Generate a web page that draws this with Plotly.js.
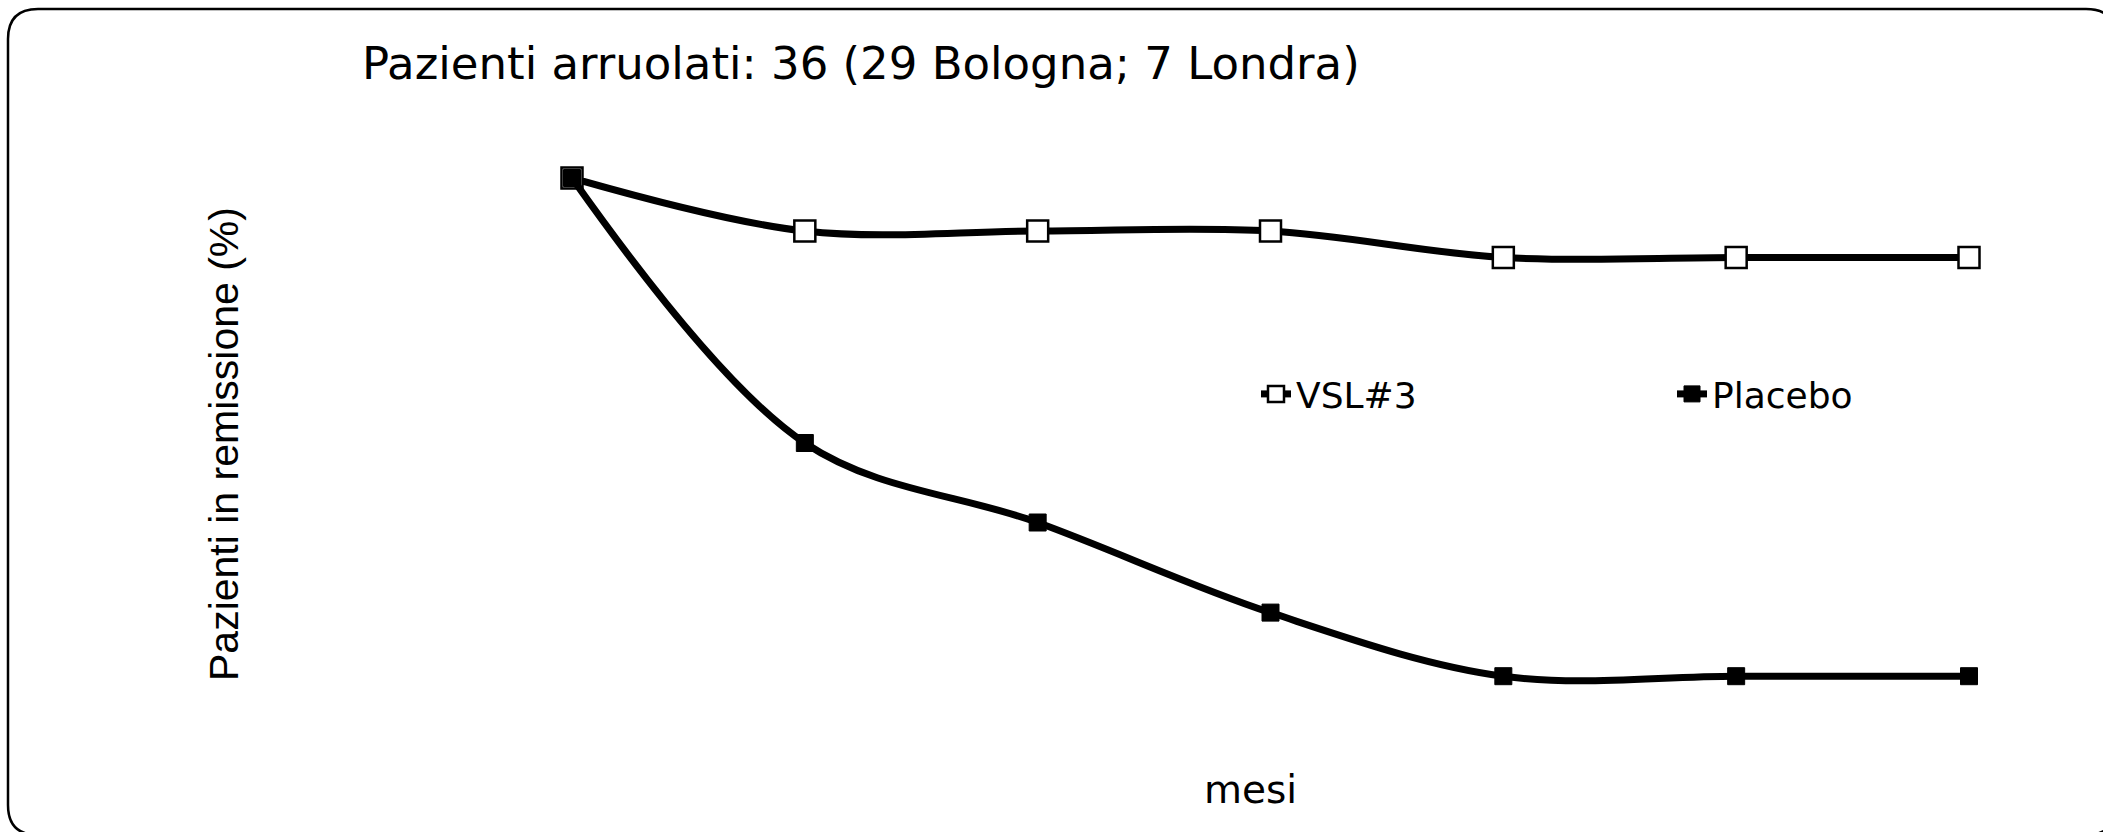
<!DOCTYPE html>
<html>
<head>
<meta charset="utf-8">
<script src="https://cdn.plot.ly/plotly-3.0.1.min.js"></script>
<style>
  html, body { margin: 0; padding: 0; background: #ffffff; }
  #chart { width: 2103px; height: 832px; }
</style>
</head>
<body>
<div id="chart"></div>
<script>
// Months of follow-up
const months = [0, 2, 4, 6, 8, 10, 12];
// Patients in remission (%)
const vsl3 = [100, 90, 90, 90, 85, 85, 85];
const placebo = [100, 50, 35, 18, 6, 6, 6];

const seriesNames = ['VSL#3', 'Placebo'];
const titleText = 'Pazienti arruolati: 36 (29 Bologna; 7 Londra)';
const xTitle = 'mesi';
const yTitle = 'Pazienti in remissione (%)';

// Figure geometry (pixels)
const W = 2103, H = 832;
const M = { l: 572, r: 134, t: 178, b: 124 };
const plotW = W - M.l - M.r;
const plotH = H - M.t - M.b;
const px = x => (x - M.l) / plotW;
const py = y => (H - M.b - y) / plotH;

// Rounded frame around the whole figure
function roundedFrame(x0, y0, x1, y1, r) {
  const p = (x, y) => px(x) + ',' + py(y);
  return 'M' + p(x0 + r, y0) +
    ' L' + p(x1 - r, y0) +
    ' Q' + p(x1, y0) + ' ' + p(x1, y0 + r) +
    ' L' + p(x1, y1 - r) +
    ' Q' + p(x1, y1) + ' ' + p(x1 - r, y1) +
    ' L' + p(x0 + r, y1) +
    ' Q' + p(x0, y1) + ' ' + p(x0, y1 - r) +
    ' L' + p(x0, y0 + r) +
    ' Q' + p(x0, y0) + ' ' + p(x0 + r, y0) + ' Z';
}

const labelFont = { family: 'DejaVu Sans, Verdana, sans-serif', color: '#000000' };

const traces = [
  {
    x: months, y: vsl3, name: seriesNames[0],
    type: 'scatter', mode: 'lines+markers', cliponaxis: false,
    line: { color: '#000000', width: 7, shape: 'spline', smoothing: 1 },
    marker: { symbol: 'square', size: 21, color: '#ffffff', line: { color: '#000000', width: 2.5 } }
  },
  {
    x: months, y: placebo, name: seriesNames[1],
    type: 'scatter', mode: 'lines+markers', cliponaxis: false,
    line: { color: '#000000', width: 7, shape: 'spline', smoothing: 1 },
    marker: { symbol: 'square', size: 17, color: '#000000', line: { color: '#000000', width: 1 } }
  }
];

const hiddenAxis = {
  showgrid: false, zeroline: false, showline: false,
  showticklabels: false, ticks: '', fixedrange: true
};

const layout = {
  width: W, height: H,
  margin: M,
  paper_bgcolor: '#ffffff',
  plot_bgcolor: '#ffffff',
  showlegend: true,
  title: {
    text: titleText,
    font: Object.assign({ size: 45 }, labelFont),
    xref: 'container', yref: 'container',
    x: 362 / W, xanchor: 'left',
    y: 1 - 63 / H, yanchor: 'middle'
  },
  xaxis: Object.assign({ range: [0, 12] }, hiddenAxis),
  yaxis: Object.assign({ range: [0, 100] }, hiddenAxis),
  legend: {
    orientation: 'h',
    x: px(1256), xanchor: 'left',
    y: py(394), yanchor: 'middle',
    bgcolor: 'rgba(0,0,0,0)',
    borderwidth: 0,
    entrywidthmode: 'pixels',
    entrywidth: 371,
    itemwidth: 30,
    font: Object.assign({ size: 36 }, labelFont)
  },
  annotations: [
    {
      text: xTitle, showarrow: false,
      xref: 'paper', yref: 'paper',
      x: px(1250), y: py(789), xanchor: 'center', yanchor: 'middle',
      font: Object.assign({ size: 39 }, labelFont)
    },
    {
      text: yTitle, showarrow: false, textangle: -90,
      xref: 'paper', yref: 'paper',
      x: px(224), y: py(444), xanchor: 'center', yanchor: 'middle',
      font: { family: 'Liberation Sans, Arial, sans-serif', size: 41, color: '#000000' }
    }
  ],
  shapes: [
    {
      type: 'path', xref: 'paper', yref: 'paper', layer: 'above',
      path: roundedFrame(8, 9, 2116, 835, 30),
      line: { color: '#000000', width: 2.5 }
    }
  ]
};

Plotly.newPlot('chart', traces, layout, { displayModeBar: false, staticPlot: true });
</script>
</body>
</html>
